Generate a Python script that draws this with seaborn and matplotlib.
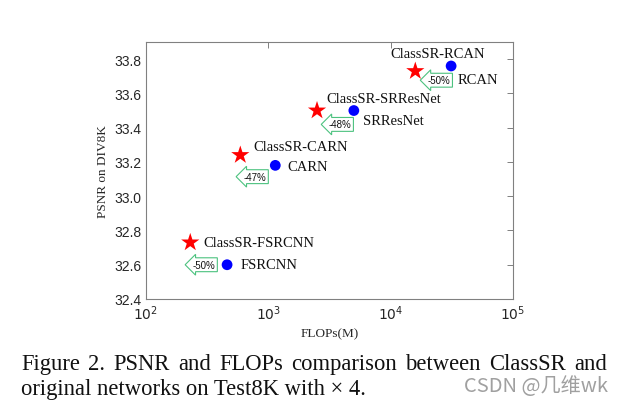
import numpy as np
import pandas as pd
import matplotlib
matplotlib.use("Agg")
import matplotlib.pyplot as plt
import seaborn as sns

# ---- data ----
orig_names = ["RCAN", "SRResNet", "CARN", "FSRCNN"]
orig_flops = [31200, 5000, 1140, 460]
orig_psnr = [33.76, 33.50, 33.18, 32.60]

cls_names = ["ClassSR-RCAN", "ClassSR-SRResNet", "ClassSR-CARN", "ClassSR-FSRCNN"]
cls_flops = [15900, 2500, 590, 230]
cls_psnr = [33.73, 33.50, 33.24, 32.73]

arrow_texts = ["-50%", "-48%", "-47%", "-50%"]
arrow_x = [24900, 3860, 778, 298]
arrow_y = [33.677, 33.419, 33.114, 32.60]

xticks = [1e2, 1e3, 1e4, 1e5]
xticklabels = [r"$10^{2}$", r"$10^{3}$", r"$10^{4}$", r"$10^{5}$"]
yticks = [32.4, 32.6, 32.8, 33.0, 33.2, 33.4, 33.6, 33.8]

caption1 = "Figure 2. PSNR and FLOPs comparison between ClassSR and"
caption2 = "original networks on Test8K with \u00d7 4."
watermark = "CSDN @几维wk"

sns.set_theme(style="white")
plt.rcParams['font.family'] = ['Liberation Serif', 'DejaVu Serif']

W, H = 617, 410
fig = plt.figure(figsize=(W / 100, H / 100), dpi=100)
ax = fig.add_axes([146 / W, 1 - 300 / H, 367 / W, 257 / H])

df_o = pd.DataFrame({"flops": orig_flops, "psnr": orig_psnr, "name": orig_names})
df_c = pd.DataFrame({"flops": cls_flops, "psnr": cls_psnr, "name": cls_names})

sns.scatterplot(data=df_o, x="flops", y="psnr", ax=ax, color="#0000ff",
                marker="o", s=60, edgecolor="none", zorder=3)
sns.scatterplot(data=df_c, x="flops", y="psnr", ax=ax, color="#ff0000",
                marker="*", s=190, edgecolor="none", zorder=3)

ax.set_xscale("log")
ax.set_xlim(1e2, 1e5)
ax.set_ylim(32.4, 33.9)
ax.set_xticks(xticks)
ax.set_xticklabels(xticklabels)
ax.set_yticks(yticks)
ax.set_yticklabels([f"{v:.1f}" for v in yticks])
ax.minorticks_off()

gray = "#808080"
for sp in ax.spines.values():
    sp.set_color(gray)
    sp.set_linewidth(0.8)
ax.tick_params(axis="both", which="major", direction="in", length=4, width=0.7,
               color=gray, top=True, right=True, labelsize=10, labelcolor="#262626",
               pad=3)
for lab in ax.get_xticklabels() + ax.get_yticklabels():
    lab.set_family(["Liberation Sans", "DejaVu Sans"])

ax.set_xlabel("FLOPs(M)", fontsize=9.5, labelpad=4, color="#262626")
ax.set_ylabel("PSNR on DIV8K", fontsize=9.5, labelpad=4, color="#262626")

# labels (offsets in points)
orig_off = [(5, -9.5), (6.5, -7), (9, -0.7), (9.5, 0)]
cls_off = [(-18, 13), (6.5, 9), (9.5, 6), (9.5, 0)]
for n, x, y, off in zip(orig_names, orig_flops, orig_psnr, orig_off):
    ax.annotate(n, (x, y), xytext=off, textcoords="offset points",
                ha="left", va="center", fontsize=10.5, color="#111111")
for n, x, y, off in zip(cls_names, cls_flops, cls_psnr, cls_off):
    ax.annotate(n, (x, y), xytext=off, textcoords="offset points",
                ha="left", va="center", fontsize=10.5, color="#111111")

for t, x, y in zip(arrow_texts, arrow_x, arrow_y):
    ax.text(x, y, t, ha="center", va="center", fontsize=7,
            family=["Liberation Sans", "DejaVu Sans"], color="#111111",
            bbox=dict(boxstyle="larrow,pad=0.2", fc="white", ec="#4cc27f", lw=0.8),
            zorder=2)

# caption: line 1 justified between x=21 and x=607
cap_fs = 16.3
renderer = fig.canvas.get_renderer()
words = caption1.split(" ")
objs = [fig.text(0, 0, w, fontsize=cap_fs, color="#111111", va="baseline")
        for w in words]
widths = [o.get_window_extent(renderer).width for o in objs]
left_px, right_px = 21, 607
gap = (right_px - left_px - sum(widths)) / (len(words) - 1)
xpos = left_px
for o, w in zip(objs, widths):
    o.set_position((xpos / W, 1 - 370 / H))
    xpos += w + gap

fig.text(left_px / W, 1 - 395 / H, caption2, ha="left", va="baseline",
         fontsize=cap_fs, color="#111111")
fig.text(608 / W, 1 - 387 / H, watermark, ha="right", va="center", fontsize=14.5,
         color="#a0a0a0", family=["Noto Sans CJK SC", "DejaVu Sans"])

fig.savefig("out.png", dpi=100, facecolor="white")
